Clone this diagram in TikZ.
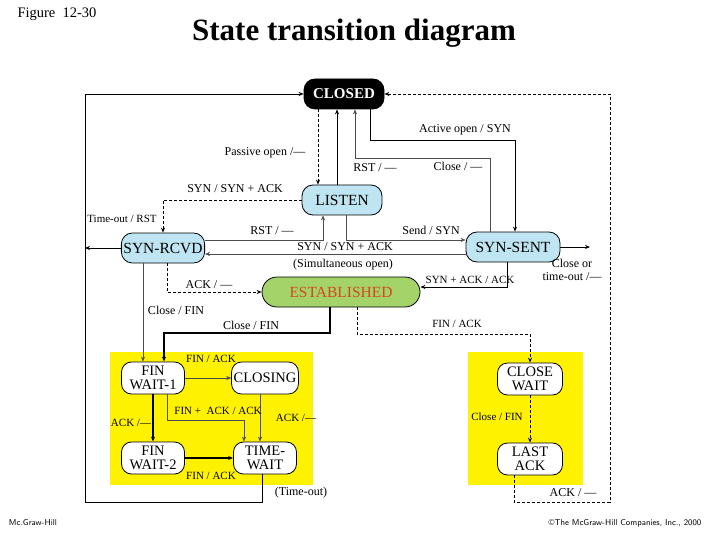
\documentclass[tikz,border=0pt]{standalone}
\usepackage{fontspec}
\setmainfont{Liberation Serif}
\usetikzlibrary{arrows.meta, positioning}
\definecolor{stblue}{HTML}{BFE4F2}
\definecolor{stgreen}{HTML}{A4D36A}
\definecolor{storange}{HTML}{D5471A}
\tikzset{
>={Stealth[length=5pt,width=4pt]}, % small filled heads
state/.style={draw, thick, rounded corners=11pt, fill=stblue, minimum width=80pt, minimum height=30pt, font=\fontsize{15.5}{16}\selectfont, inner sep=2pt},
box/.style={state, fill=white, minimum width=63pt, minimum height=32pt, align=center, font=\fontsize{14.5}{14}\selectfont, rounded corners=10pt},
lbl/.style={font=\fontsize{12}{12.5}\selectfont, inner sep=1pt, align=center},
small lbl/.style={lbl, font=\fontsize{11}{11}\selectfont},
dashed arrow/.style={->, thick, dash pattern=on 3pt off 2pt},
thin arrow/.style={->, gray!60!black},
}
\begin{document}
\begin{tikzpicture}[x=1pt, y=-1pt]
    \useasboundingbox (0,0) rectangle (720,540);
    % headings
    \node[font=\fontsize{14.5}{15}\selectfont] (fig) at (57,14) {Figure\ \ 12-30};
    \node[font=\bfseries\fontsize{31}{31}\selectfont] (title) at (354,33) {State transition diagram};
    \node[font=\sffamily\fontsize{8.5}{8}\selectfont] (mcg) at (33,523) {Mc.Graw-Hill};
    \node[font=\sffamily\fontsize{8.5}{8}\selectfont] (copy) at (625,523) {\textcopyright The McGraw-Hill Companies, Inc., 2000};

    % yellow areas
    \fill[yellow] (110,352) rectangle (313,485);
    \fill[yellow] (468,352) rectangle (583,485);

    % states
    \node[state, fill=black, text=white, font=\bfseries\fontsize{15}{15}\selectfont] (closed) at (344,94) {CLOSED};
    \node[state] (listen) at (342,200) {LISTEN};
    \node[state] (synrcvd) at (163,248) {SYN-RCVD};
    \node[state, minimum width=94pt] (synsent) at (513,247) {SYN-SENT};
    \node[state, fill=stgreen, text=storange, minimum width=158pt, rounded corners=15pt] (estab) at (341,292) {ESTABLISHED};
    \node[box] (finwait1) at (153,378) {FIN\\WAIT-1};
    \node[box] (closing) at (265,378) {CLOSING};
    \node[box] (finwait2) at (153,458) {FIN\\WAIT-2};
    \node[box] (timewait) at (265,458) {TIME-\\WAIT};
    \node[box, minimum width=65pt] (closewait) at (530,379) {CLOSE\\WAIT};
    \node[box, minimum width=65pt] (lastack) at (530,459) {LAST\\ACK};

    % helper points
    \coordinate (lft) at (85,502);
    \coordinate (rgt) at (610,502);
    \coordinate (rgtout) at (590,247);
    \coordinate (ao) at (515,140);
    \coordinate (cl) at (355,158);

    % outer loops
    \draw[->, thick] ([xshift=-3]timewait.south) |- (lft) |- (closed.west);
    \draw[dashed arrow] ([xshift=-16]lastack.south) |- (rgt) |- (closed.east);
    \draw[->, thick] (synrcvd.west) -- (synrcvd.west -| lft);
    \draw[->, thick] (synsent.east) -- (rgtout);

    % around CLOSED and LISTEN
    \draw[dashed arrow] ([xshift=-26]closed.south) -- ([xshift=-24]listen.north);
    \draw[->, thick] ([xshift=-5]listen.north) -- ([xshift=-7]closed.south);
    \draw[->, thick] ([xshift=26]closed.south) |- (ao) -- (ao |- synsent.north);
    \draw[thin arrow] ([xshift=-23]synsent.north) |- (cl) -- (cl |- closed.south);
    \draw[dashed arrow] (listen.west) -| (synrcvd.north);
    \draw[thin arrow] ([yshift=8]synrcvd.east) -| ([xshift=-19]listen.south);
    \draw[thin arrow] ([xshift=4]listen.south) |- ([yshift=7]synsent.west);
    \draw[thin arrow] ([yshift=-7]synsent.west) -- ([yshift=-6]synrcvd.east);
    \draw[dashed arrow] ([xshift=4]synrcvd.south) |- (estab.west);
    \draw[->, thick] ([xshift=-6]synsent.south) |- ([yshift=5]estab.east);

    % towards closing states
    \draw[thin arrow] ([xshift=-20]synrcvd.south) -- ([xshift=-10]finwait1.north);
    \draw[->, very thick] ([xshift=-11]estab.south) |- (164,333) -- ([xshift=11]finwait1.north);
    \draw[dashed arrow] ([xshift=16]estab.south) |- (530,334) -- (closewait.north);

    % closing states
    \draw[thin arrow] (finwait1.east) -- (closing.west);
    \draw[->, very thick] (finwait1.south) -- (finwait2.north);
    \draw[thin arrow] ([xshift=14]finwait1.south) |- (244,420) -- ([xshift=-21]timewait.north);
    \draw[thin arrow] ([xshift=-5]closing.south) -- ([xshift=-5]timewait.north);
    \draw[->, very thick] (finwait2.east) -- (timewait.west);
    \draw[dashed arrow] (closewait.south) -- (lastack.north);

    % labels
    \node[lbl] (l-passive) at (265,153) {Passive open /---};
    \node[lbl] (l-rst1) at (375,168) {RST / ---};
    \node[lbl] (l-active) at (465,130) {Active open / SYN};
    \node[lbl] (l-close1) at (458,166) {Close / ---};
    \node[lbl] (l-synack1) at (235,189) {SYN / SYN + ACK};
    \node[small lbl] (l-timeout) at (122,219) {Time-out / RST};
    \node[lbl] (l-rst2) at (272,231) {RST / ---};
    \node[lbl] (l-send) at (431,230) {Send / SYN};
    \node[lbl] (l-synack2) at (345,247) {SYN / SYN + ACK};
    \node[lbl] (l-simul) at (343,265) {(Simultaneous open)};
    \node[lbl] (l-ack1) at (209,285) {ACK / ---};
    \node[small lbl] (l-synackack) at (470,280) {SYN + ACK / ACK};
    \node[lbl] (l-closeor) at (572,270) {Close or\\time-out /---};
    \node[lbl] (l-closefin1) at (176,310) {Close / FIN};
    \node[lbl] (l-closefin2) at (251,325) {Close / FIN};
    \node[small lbl] (l-finack1) at (457,324) {FIN / ACK};
    \node[small lbl] (l-finack2) at (211,359) {FIN / ACK};
    \node[small lbl] (l-finackack) at (218,411) {FIN + \ ACK / ACK};
    \node[small lbl] (l-ack2) at (131,423) {ACK /---};
    \node[small lbl] (l-ack3) at (296,418) {ACK /---};
    \node[small lbl] (l-finack3) at (211,476) {FIN / ACK};
    \node[small lbl] (l-closefin3) at (497,417) {Close / FIN};
    \node[lbl] (l-timeout2) at (301,493) {(Time-out)};
    \node[lbl] (l-ack4) at (573,493) {ACK / ---};
\end{tikzpicture}
\end{document}
